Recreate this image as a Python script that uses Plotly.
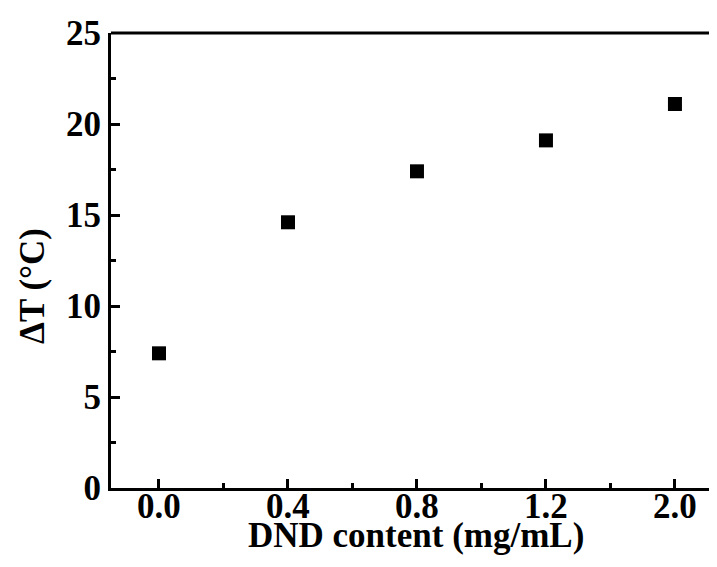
import plotly.graph_objects as go

categories = ["0.0", "0.4", "0.8", "1.2", "2.0"]
delta_t = [7.4, 14.6, 17.4, 19.1, 21.1]
y_ticks = [0, 5, 10, 15, 20, 25]

# page body has an 8px margin, so the figure is drawn offset by (8, 8)
OFF = 8
W, H = 717 - OFF, 567 - OFF
ML, MR, MT, MB = 111 - OFF, 0, 33 - OFF, 567 - 488
FONT = "Liberation Serif"

xpos = list(range(len(categories)))

fig = go.Figure()
fig.add_trace(go.Scatter(
    x=xpos, y=delta_t, mode="markers",
    marker=dict(symbol="square", size=14, color="black", line=dict(width=0)),
    showlegend=False,
))

fig.update_layout(
    template="none",
    width=W, height=H,
    margin=dict(l=ML, r=MR, t=MT, b=MB, autoexpand=False),
    paper_bgcolor="white", plot_bgcolor="white",
    font=dict(family=FONT, color="black"),
    xaxis=dict(
        automargin=False,
        range=[-0.372, 4.326],
        tickmode="array", tickvals=xpos, ticktext=categories,
        ticks="inside", ticklen=9, tickwidth=3, tickcolor="black",
        showline=True, linewidth=3, linecolor="black",
        showgrid=False, zeroline=False,
        ticklabelstandoff=-15,
        tickfont=dict(family=FONT, size=35, color="black", weight="bold"),
        minor=dict(tickmode="array", tickvals=[0.5, 1.5, 2.5, 3.5],
                   ticks="inside", ticklen=5, tickwidth=3, tickcolor="black",
                   showgrid=False),
    ),
    yaxis=dict(
        automargin=False,
        range=[0, 25],
        tickmode="array", tickvals=y_ticks,
        ticks="inside", ticklen=9, tickwidth=3, tickcolor="black",
        showline=True, linewidth=3, linecolor="black",
        showgrid=False, zeroline=False,
        tickfont=dict(family=FONT, size=35, color="black", weight="bold"),
        minor=dict(dtick=2.5, tick0=0, ticks="inside", ticklen=5, tickwidth=3,
                   tickcolor="black", showgrid=False),
    ),
)

# top frame line
fig.add_shape(type="line", xref="paper", yref="paper", x0=0, x1=1, y0=1, y1=1,
              line=dict(color="black", width=3))

plot_w = W - ML - MR
plot_h = H - MT - MB
# x title (target screen centre x=416, y=535)
fig.add_annotation(
    text="<b>DND content (mg/mL)</b>", xref="paper", yref="paper",
    x=(416 - OFF - ML) / plot_w, y=-(535 - OFF - (H - MB)) / plot_h,
    showarrow=False, xanchor="center", yanchor="middle",
    font=dict(family=FONT, size=35, color="black"),
)
# y title (target screen centre x=32, y=286)
fig.add_annotation(
    text="<b>ΔT (°C)</b>", xref="paper", yref="paper",
    x=-(ML - (32 - OFF)) / plot_w, y=(H - MB - (286 - OFF)) / plot_h,
    showarrow=False, xanchor="center", yanchor="middle", textangle=-90,
    font=dict(family=FONT, size=35, color="black"),
)

fig.write_html("out.html")
